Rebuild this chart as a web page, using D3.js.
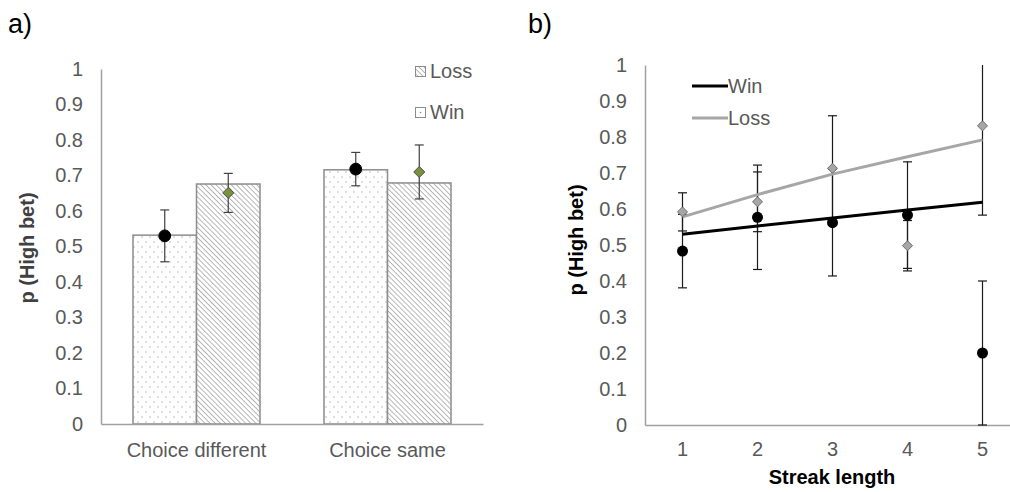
<!DOCTYPE html>
<html lang="en">
<head>
  <meta charset="UTF-8" />
  <title>High bet probability</title>
  <style>
    body { margin: 0; background: #fff; }
    svg { display: block; font-family: "Liberation Sans", Arial, sans-serif; }
    .tick text { fill: #595959; font-size: 20px; }
    .axis path { stroke: #a0a0a0; stroke-width: 1.5px; }
    .ylab { font-size: 20px; font-weight: bold; }
    .panel-label { font-size: 27px; fill: #000; }
    .legend text { font-size: 20px; fill: #595959; }
  </style>
  <script src="https://d3js.org/d3.v7.min.js"></script>
</head>
<body>
  <div id="chart"></div>
  <script type="text/javascript">
    // panel a: bars by choice condition
    const choiceCats = ["Choice different", "Choice same"];
    const outcomes = ["Win", "Loss"];
    const barWin = [0.532, 0.716];
    const barLoss = [0.676, 0.679];
    const pointWin = [0.530, 0.718];
    const errWin = [0.073, 0.047];
    const pointLoss = [0.651, 0.710];
    const errLoss = [0.055, 0.076];

    // panel b: by streak length
    const streaks = [1, 2, 3, 4, 5];
    const streakWin = [0.483, 0.577, 0.562, 0.583, 0.200];
    const streakWinErr = [0.102, 0.145, 0.148, 0.148, 0.200];
    const streakLoss = [0.592, 0.620, 0.713, 0.498, 0.831];
    const streakLossErr = [0.053, 0.083, 0.146, 0.070, 0.248];
    const trendWin = [0.530, 0.553, 0.575, 0.597, 0.619];
    const trendLoss = [0.578, 0.640, 0.697, 0.745, 0.792];

    const yTicks = [0, 0.1, 0.2, 0.3, 0.4, 0.5, 0.6, 0.7, 0.8, 0.9, 1];

    const svg = d3.select("#chart").append("svg")
      .attr("width", 1010)
      .attr("height", 492);

    const defs = svg.append("defs");
    const dots = defs.append("pattern")
      .attr("id", "dots")
      .attr("patternUnits", "userSpaceOnUse")
      .attr("width", 8).attr("height", 10);
    dots.append("rect").attr("width", 8).attr("height", 10).attr("fill", "#fff");
    dots.append("circle").attr("cx", 2).attr("cy", 2).attr("r", 0.7).attr("fill", "#a8a8a8");
    dots.append("circle").attr("cx", 6).attr("cy", 7).attr("r", 0.7).attr("fill", "#a8a8a8");

    const hatch = defs.append("pattern")
      .attr("id", "hatch")
      .attr("patternUnits", "userSpaceOnUse")
      .attr("width", 3.6).attr("height", 3.6)
      .attr("patternTransform", "rotate(-45)");
    hatch.append("rect").attr("width", 3.6).attr("height", 3.6).attr("fill", "#fff");
    hatch.append("line").attr("x1", 0).attr("y1", 0).attr("x2", 0).attr("y2", 3.6)
      .attr("stroke", "#9a9a9a").attr("stroke-width", 1.4);

    // ---------- panel a ----------
    const yA = d3.scaleLinear().domain([0, 1]).range([424, 69]);
    const xA = d3.scaleBand().domain(choiceCats).range([101, 483])
      .paddingInner(0.335).paddingOuter(0.1675);
    const xSub = d3.scaleBand().domain(outcomes).range([0, xA.bandwidth()]);

    svg.append("text").attr("class", "panel-label").attr("x", 8).attr("y", 33).text("a)");

    const gA = svg.append("g");

    const barRows = [];
    choiceCats.forEach((c, i) => {
      barRows.push({ cat: c, key: "Win", v: barWin[i], p: pointWin[i], e: errWin[i] });
      barRows.push({ cat: c, key: "Loss", v: barLoss[i], p: pointLoss[i], e: errLoss[i] });
    });

    gA.selectAll(".bar")
      .data(barRows)
      .enter().append("rect")
      .attr("class", "bar")
      .attr("x", d => xA(d.cat) + xSub(d.key))
      .attr("y", d => yA(d.v))
      .attr("width", xSub.bandwidth())
      .attr("height", d => yA(0) - yA(d.v))
      .attr("fill", d => d.key === "Win" ? "url(#dots)" : "url(#hatch)")
      .attr("stroke", "#8c8c8c")
      .attr("stroke-width", 1.5);

    const axA = gA.append("g").attr("class", "axis")
      .attr("transform", `translate(101,0)`)
      .call(d3.axisLeft(yA).tickValues(yTicks).tickFormat(d3.format("~g")).tickSize(0).tickPadding(18));
    const axAx = gA.append("g").attr("class", "axis")
      .attr("transform", `translate(0,${yA(0)})`)
      .call(d3.axisBottom(xA).tickSize(0).tickPadding(19));

    // error bars + markers
    const cap = 4.5;
    const errA = gA.selectAll(".err")
      .data(barRows)
      .enter().append("g")
      .attr("class", "err")
      .attr("stroke", "#404040")
      .attr("stroke-width", 1.2);
    errA.append("line")
      .attr("x1", d => xA(d.cat) + xSub(d.key) + xSub.bandwidth() / 2)
      .attr("x2", d => xA(d.cat) + xSub(d.key) + xSub.bandwidth() / 2)
      .attr("y1", d => yA(d.p - d.e)).attr("y2", d => yA(d.p + d.e));
    [-1, 1].forEach(s => {
      errA.append("line")
        .attr("x1", d => xA(d.cat) + xSub(d.key) + xSub.bandwidth() / 2 - cap)
        .attr("x2", d => xA(d.cat) + xSub(d.key) + xSub.bandwidth() / 2 + cap)
        .attr("y1", d => yA(d.p + s * d.e)).attr("y2", d => yA(d.p + s * d.e));
    });

    gA.selectAll(".mk")
      .data(barRows)
      .enter().append("path")
      .attr("class", "mk")
      .attr("transform", d => `translate(${xA(d.cat) + xSub(d.key) + xSub.bandwidth() / 2},${yA(d.p)})`)
      .attr("d", d => d.key === "Win"
        ? d3.symbol(d3.symbolCircle, 110)()
        : "M0,-5.5L5.5,0L0,5.5L-5.5,0Z")
      .attr("fill", d => d.key === "Win" ? "#000" : "#77933c")
      .attr("stroke", d => d.key === "Win" ? "#000" : "#4a4a4a")
      .attr("stroke-width", 1);

    gA.append("text").attr("class", "ylab")
      .attr("transform", "translate(34,248) rotate(-90)")
      .attr("text-anchor", "middle")
      .attr("fill", "#404040")
      .text("p (High bet)");

    const legA = gA.append("g").attr("class", "legend");
    legA.append("rect").attr("x", 415.5).attr("y", 66.5).attr("width", 10).attr("height", 10)
      .attr("fill", "url(#hatch)").attr("stroke", "#8c8c8c").attr("stroke-width", 1);
    legA.append("text").attr("x", 430).attr("y", 78).text("Loss");
    legA.append("rect").attr("x", 415.5).attr("y", 107.5).attr("width", 10).attr("height", 10)
      .attr("fill", "#fff").attr("stroke", "#8c8c8c").attr("stroke-width", 1);
    legA.append("circle").attr("cx", 420.5).attr("cy", 112.5).attr("r", 0.8).attr("fill", "#888");
    legA.append("text").attr("x", 430).attr("y", 119).text("Win");

    // ---------- panel b ----------
    const yB = d3.scaleLinear().domain([0, 1]).range([425, 65]);
    const xB = d3.scaleBand().domain(streaks).range([645, 1020]);
    const cx = s => xB(s) + xB.bandwidth() / 2;

    svg.append("text").attr("class", "panel-label").attr("x", 528).attr("y", 33).text("b)");

    const gB = svg.append("g");
    gB.append("g").attr("class", "axis")
      .attr("transform", "translate(645,0)")
      .call(d3.axisLeft(yB).tickValues(yTicks).tickFormat(d3.format("~g")).tickSize(0).tickPadding(18));
    gB.append("g").attr("class", "axis")
      .attr("transform", `translate(0,${yB(0)})`)
      .call(d3.axisBottom(xB).tickSize(0).tickPadding(17));

    const rowsB = streaks.map((s, i) => ({
      s, w: streakWin[i], we: streakWinErr[i], l: streakLoss[i], le: streakLossErr[i]
    }));

    const clamp = v => Math.max(0, Math.min(1, v));
    function errBars(key, ekey) {
      const g = gB.append("g").attr("stroke", "#1a1a1a").attr("stroke-width", 1.2);
      rowsB.forEach(d => {
        const lo = d[key] - d[ekey], hi = d[key] + d[ekey];
        g.append("line").attr("x1", cx(d.s)).attr("x2", cx(d.s))
          .attr("y1", yB(clamp(lo))).attr("y2", yB(clamp(hi)));
        [lo, hi].forEach(v => {
          if (v >= 0 && v <= 1) {
            g.append("line").attr("x1", cx(d.s) - cap).attr("x2", cx(d.s) + cap)
              .attr("y1", yB(v)).attr("y2", yB(v));
          }
        });
      });
    }
    errBars("w", "we");
    errBars("l", "le");

    const line = d3.line().x((d, i) => cx(streaks[i])).y(d => yB(d));
    gB.append("path").datum(trendLoss).attr("d", line)
      .attr("fill", "none").attr("stroke", "#a6a6a6").attr("stroke-width", 3);
    gB.append("path").datum(trendWin).attr("d", line)
      .attr("fill", "none").attr("stroke", "#000").attr("stroke-width", 3);

    gB.selectAll(".wpt").data(rowsB).enter().append("circle")
      .attr("cx", d => cx(d.s)).attr("cy", d => yB(d.w)).attr("r", 5.5).attr("fill", "#000");
    gB.selectAll(".lpt").data(rowsB).enter().append("path")
      .attr("transform", d => `translate(${cx(d.s)},${yB(d.l)})`)
      .attr("d", "M0,-5L5,0L0,5L-5,0Z")
      .attr("fill", "#a6a6a6").attr("stroke", "#6e6e6e").attr("stroke-width", 1);

    gB.append("text").attr("class", "ylab")
      .attr("transform", "translate(583,240) rotate(-90)")
      .attr("text-anchor", "middle")
      .attr("fill", "#000")
      .text("p (High bet)");
    gB.append("text").attr("class", "ylab")
      .attr("x", 832).attr("y", 484)
      .attr("text-anchor", "middle")
      .attr("fill", "#000")
      .text("Streak length");

    const legB = gB.append("g").attr("class", "legend");
    legB.append("line").attr("x1", 692).attr("x2", 728).attr("y1", 86).attr("y2", 86)
      .attr("stroke", "#000").attr("stroke-width", 3);
    legB.append("text").attr("x", 728).attr("y", 93).text("Win");
    legB.append("line").attr("x1", 692).attr("x2", 728).attr("y1", 118).attr("y2", 118)
      .attr("stroke", "#a6a6a6").attr("stroke-width", 3);
    legB.append("text").attr("x", 728).attr("y", 125).text("Loss");
  </script>
</body>
</html>
